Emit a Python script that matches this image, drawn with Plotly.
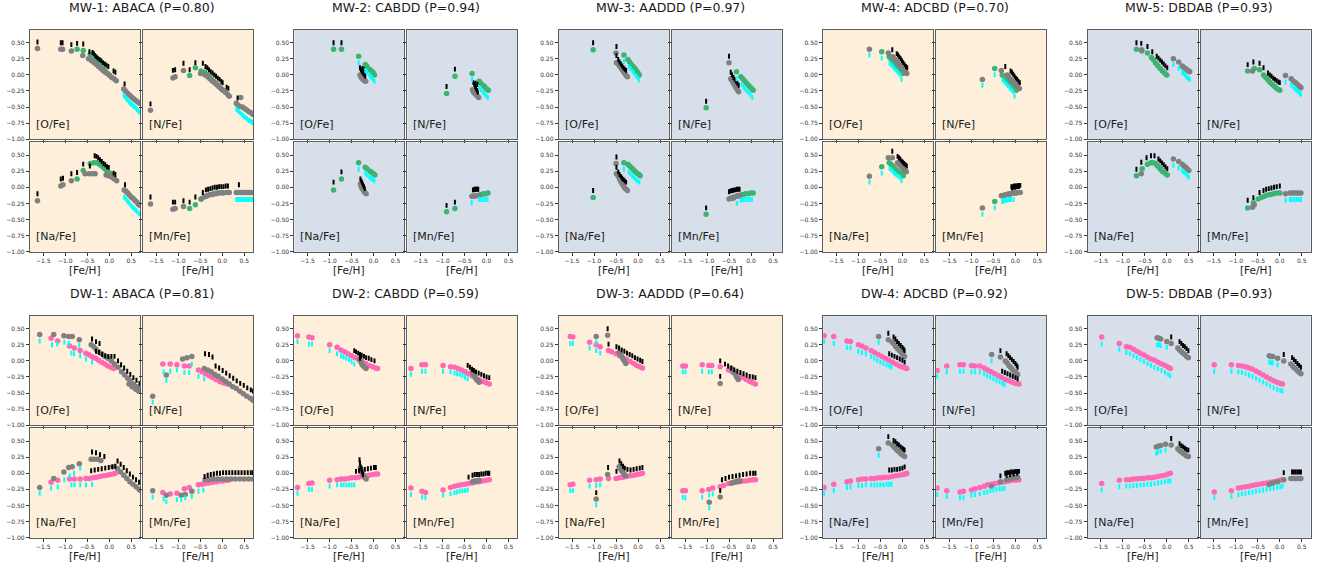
import plotly.graph_objects as go

# ---------------------------------------------------------------------------
# Abundance-ratio tracks vs [Fe/H] for ten simulated galaxies.
# Each panel holds: gray points, model points (green for MW, pink for DW),
# black tick markers (offset above) and cyan tick markers (offset below).
# ---------------------------------------------------------------------------

ELEMENTS = ["[O/Fe]", "[N/Fe]", "[Na/Fe]", "[Mn/Fe]"]
X_TICKS = [-1.5, -1.0, -0.5, 0.0, 0.5]
X_TICK_TEXT = ["\u22121.5", "\u22121.0", "\u22120.5", "0.0", "0.5"]
Y_TICKS = [-1.0, -0.75, -0.5, -0.25, 0.0, 0.25, 0.5]
Y_TICK_TEXT = ["\u22121.00", "\u22120.75", "\u22120.50", "\u22120.25", "0.00", "0.25", "0.50"]

MW_TITLES = ["MW-1: ABACA (P=0.80)", "MW-2: CABDD (P=0.94)", "MW-3: AADDD (P=0.97)",
             "MW-4: ADCBD (P=0.70)", "MW-5: DBDAB (P=0.93)"]
DW_TITLES = ["DW-1: ABACA (P=0.81)", "DW-2: CABDD (P=0.59)", "DW-3: AADDD (P=0.64)",
             "DW-4: ADCBD (P=0.92)", "DW-5: DBDAB (P=0.93)"]
MW_BG = ["warm", "cool", "cool", "warm", "cool"]
DW_BG = ["warm", "warm", "warm", "cool", "cool"]

# ----------------------------- MW-1 ----------------------------------------
MW1_O = dict(
    gray=[(-1.63,0.41),(-1.10,0.40),(-1.06,0.40),(-0.86,0.37),(-0.60,0.30),(-0.47,0.25),(-0.40,0.22),(-0.34,0.19),(-0.29,0.16),(-0.24,0.13),(-0.19,0.10),(-0.14,0.07),(-0.09,0.04),(-0.04,0.02),(0.01,-0.01),(0.06,-0.04),(0.11,-0.06),(0.16,-0.09),(0.33,-0.22),(0.37,-0.25),(0.41,-0.28),(0.45,-0.31),(0.49,-0.33),(0.53,-0.36),(0.57,-0.38),(0.61,-0.40),(0.65,-0.42),(0.69,-0.44)],
    model=[(-0.73,0.40),(-0.59,0.38),(-0.43,0.32),(-0.36,0.29),(-0.32,0.26),(-0.28,0.22),(-0.24,0.18),(-0.20,0.15),(-0.16,0.11),(-0.12,0.08),(-0.08,0.05),(-0.04,0.02),(0.00,0.00)],
    up=[(-1.63,0.51),(-1.10,0.50),(-1.06,0.50),(-0.86,0.47),(-0.73,0.49),(-0.59,0.48),(-0.45,0.36),(-0.38,0.35),(-0.35,0.33),(-0.32,0.30),(-0.29,0.28),(-0.26,0.26),(-0.22,0.24),(-0.18,0.22),(-0.14,0.19),(-0.10,0.17),(-0.06,0.15),(-0.02,0.13),(0.10,0.06),(0.14,0.04),(0.35,-0.14)],
    down=[(0.33,-0.32),(0.36,-0.34),(0.39,-0.37),(0.42,-0.39),(0.45,-0.42),(0.48,-0.44),(0.51,-0.46),(0.54,-0.48),(0.57,-0.49),(0.60,-0.51),(0.63,-0.54),(0.66,-0.56),(0.69,-0.58)])
MW1_N = dict(
    gray=[(-1.63,-0.55),(-1.12,-0.05),(-1.07,-0.03),(-0.88,0.07),(-0.49,0.02),(-0.39,0.00),(-0.33,-0.03),(-0.28,-0.06),(-0.23,-0.09),(-0.18,-0.12),(-0.13,-0.15),(-0.08,-0.18),(-0.03,-0.21),(0.02,-0.24),(0.07,-0.27),(0.12,-0.30),(0.16,-0.33),(0.32,-0.44),(0.42,-0.35),(0.36,-0.47),(0.40,-0.49),(0.46,-0.50),(0.50,-0.52),(0.55,-0.54),(0.60,-0.57),(0.65,-0.59),(0.69,-0.61)],
    model=[(-0.74,-0.01),(-0.61,0.11),(-0.48,0.06),(-0.40,0.04),(-0.35,0.01),(-0.30,-0.03),(-0.25,-0.06),(-0.20,-0.10),(-0.15,-0.13),(-0.10,-0.16),(-0.05,-0.19),(0.00,-0.23)],
    up=[(-1.63,-0.45),(-1.12,0.07),(-1.07,0.08),(-0.88,0.18),(-0.74,0.08),(-0.61,0.19),(-0.44,0.18),(-0.38,0.13),(-0.34,0.11),(-0.30,0.08),(-0.26,0.05),(-0.22,0.03),(-0.18,0.00),(-0.14,-0.02),(-0.10,-0.05),(-0.06,-0.07),(-0.02,-0.10),(0.01,-0.12),(0.10,-0.19),(0.14,-0.21),(0.35,-0.36)],
    down=[(0.32,-0.53),(0.35,-0.55),(0.38,-0.57),(0.41,-0.59),(0.44,-0.61),(0.47,-0.63),(0.50,-0.65),(0.53,-0.66),(0.56,-0.68),(0.59,-0.70),(0.62,-0.71),(0.65,-0.72),(0.68,-0.74)])
MW1_Na = dict(
    gray=[(-1.63,-0.21),(-1.10,0.02),(-1.05,0.04),(-0.86,0.10),(-0.55,0.21),(-0.46,0.21),(-0.38,0.21),(-0.32,0.21),(-0.07,0.19),(-0.02,0.18),(0.03,0.17),(0.08,0.15),(0.12,0.13),(0.17,0.10),(0.34,-0.04),(0.38,-0.06),(0.42,-0.09),(0.46,-0.12),(0.50,-0.15),(0.54,-0.17),(0.58,-0.20),(0.62,-0.23),(0.66,-0.26),(0.69,-0.28)],
    model=[(-0.73,0.13),(-0.59,0.26),(-0.43,0.37),(-0.35,0.38),(-0.28,0.38),(-0.22,0.36),(-0.17,0.33),(-0.12,0.30),(-0.07,0.27),(-0.03,0.24),(0.02,0.22)],
    up=[(-1.63,-0.10),(-1.10,0.13),(-1.05,0.14),(-0.86,0.21),(-0.73,0.23),(-0.59,0.36),(-0.44,0.33),(-0.33,0.49),(-0.29,0.48),(-0.25,0.46),(-0.21,0.43),(-0.17,0.40),(-0.13,0.37),(-0.09,0.35),(-0.05,0.32),(-0.01,0.31),(0.10,0.22),(0.14,0.20),(0.36,0.04)],
    down=[(0.34,-0.15),(0.37,-0.17),(0.40,-0.20),(0.43,-0.23),(0.46,-0.25),(0.49,-0.28),(0.52,-0.30),(0.55,-0.32),(0.58,-0.34),(0.61,-0.36),(0.64,-0.38),(0.68,-0.41)])
MW1_Mn = dict(
    gray=[(-1.63,-0.26),(-1.12,-0.34),(-1.07,-0.33),(-0.88,-0.30),(-0.48,-0.18),(-0.37,-0.14),(-0.30,-0.12),(-0.22,-0.11),(-0.14,-0.10),(-0.06,-0.09),(0.02,-0.09),(0.10,-0.08),(0.16,-0.08),(0.32,-0.08),(0.37,-0.08),(0.42,-0.08),(0.47,-0.08),(0.52,-0.08),(0.57,-0.08),(0.62,-0.08),(0.67,-0.08)],
    model=[(-0.74,-0.33),(-0.61,-0.27),(-0.48,-0.18),(-0.41,-0.15),(-0.34,-0.13),(-0.27,-0.11),(-0.20,-0.10),(-0.13,-0.09),(-0.06,-0.08),(0.00,-0.08)],
    up=[(-1.63,-0.15),(-1.12,-0.23),(-1.07,-0.23),(-0.88,-0.21),(-0.74,-0.23),(-0.61,-0.15),(-0.44,-0.08),(-0.37,-0.04),(-0.32,-0.03),(-0.27,-0.02),(-0.22,-0.01),(-0.17,0.00),(-0.12,0.00),(-0.07,0.01),(-0.02,0.01),(0.03,0.01),(0.08,0.02),(0.13,0.02),(0.38,0.04)],
    down=[(0.32,-0.19),(0.36,-0.19),(0.40,-0.19),(0.44,-0.19),(0.48,-0.19),(0.52,-0.19),(0.56,-0.19),(0.60,-0.19),(0.64,-0.19),(0.68,-0.19)])

# ----------------------------- MW-2 ----------------------------------------
MW2_O = dict(
    gray=[(-0.31,0.00),(-0.29,-0.03),(-0.27,-0.05),(-0.24,-0.07),(-0.21,-0.09),(-0.18,-0.10)],
    model=[(-0.91,0.40),(-0.73,0.40),(-0.34,0.29),(-0.19,0.16),(-0.15,0.13),(-0.08,0.08),(-0.05,0.06),(-0.02,0.04),(0.00,0.02),(0.02,0.00)],
    up=[(-0.91,0.50),(-0.73,0.50),(-0.31,0.11),(-0.29,0.08),(-0.27,0.06),(-0.25,0.04),(-0.23,0.02),(-0.21,0.00),(-0.19,-0.02),(-0.25,0.10),(-0.21,0.08)],
    down=[(-0.34,0.19),(-0.19,0.07),(-0.15,0.04),(-0.10,0.01),(-0.07,-0.02),(-0.04,-0.04),(-0.01,-0.07),(0.02,-0.10)])
MW2_N = dict(
    gray=[(-0.32,-0.23),(-0.30,-0.26),(-0.28,-0.28),(-0.25,-0.30),(-0.22,-0.32),(-0.18,-0.35)],
    model=[(-0.91,-0.29),(-0.72,-0.02),(-0.33,0.02),(-0.17,-0.10),(-0.13,-0.13),(-0.07,-0.17),(-0.04,-0.19),(0.00,-0.22),(0.04,-0.24)],
    up=[(-0.91,-0.18),(-0.72,0.09),(-0.30,-0.12),(-0.28,-0.15),(-0.26,-0.18),(-0.24,-0.21),(-0.22,-0.24),(-0.20,-0.27),(-0.25,-0.13),(-0.21,-0.15)],
    down=[(-0.33,-0.07),(-0.17,-0.20),(-0.13,-0.23),(-0.08,-0.27),(-0.04,-0.30),(0.00,-0.33),(0.03,-0.35)])
MW2_Na = dict(
    gray=[(-0.30,0.05),(-0.28,0.01),(-0.26,-0.02),(-0.23,-0.05),(-0.20,-0.08),(-0.17,-0.10)],
    model=[(-0.91,-0.04),(-0.73,0.13),(-0.34,0.38),(-0.19,0.31),(-0.15,0.29),(-0.08,0.25),(-0.04,0.23),(0.00,0.21),(0.03,0.19)],
    up=[(-0.91,0.08),(-0.73,0.24),(-0.30,0.13),(-0.28,0.10),(-0.26,0.07),(-0.24,0.04),(-0.22,0.01),(-0.20,-0.02)],
    down=[(-0.34,0.28),(-0.19,0.22),(-0.15,0.19),(-0.10,0.16),(-0.06,0.14),(-0.02,0.12),(0.02,0.10)])
MW2_Mn = dict(
    gray=[(-0.33,-0.14),(-0.29,-0.14),(-0.25,-0.13),(-0.21,-0.13),(-0.17,-0.13)],
    model=[(-0.91,-0.38),(-0.72,-0.33),(-0.33,-0.14),(-0.17,-0.12),(-0.12,-0.11),(-0.07,-0.10),(-0.02,-0.10),(0.03,-0.09)],
    up=[(-0.91,-0.28),(-0.72,-0.23),(-0.31,-0.04),(-0.29,-0.04),(-0.27,-0.03),(-0.25,-0.03),(-0.23,-0.03),(-0.21,-0.03),(-0.19,-0.03)],
    down=[(-0.34,-0.24),(-0.17,-0.19),(-0.12,-0.19),(-0.07,-0.19),(-0.03,-0.19),(0.02,-0.19)])

# ----------------------------- MW-3 ----------------------------------------
MW3_O = dict(
    gray=[(-0.50,0.34),(-0.49,0.19),(-0.45,0.17),(-0.42,0.14),(-0.39,0.11),(-0.36,0.08),(-0.33,0.05),(-0.30,0.02),(-0.27,-0.01),(-0.24,-0.03)],
    model=[(-1.02,0.39),(-0.32,0.31),(-0.23,0.24),(-0.19,0.20),(-0.15,0.16),(-0.11,0.13),(-0.07,0.10),(-0.03,0.06),(0.00,0.03),(0.03,0.00)],
    up=[(-1.02,0.50),(-0.49,0.44),(-0.49,0.30),(-0.45,0.24),(-0.42,0.20),(-0.39,0.17),(-0.36,0.14),(-0.33,0.11),(-0.30,0.09),(-0.27,0.07)],
    down=[(-0.32,0.21),(-0.21,0.13),(-0.17,0.10),(-0.13,0.06),(-0.09,0.03),(-0.05,-0.01),(-0.01,-0.04),(0.02,-0.08)])
MW3_N = dict(
    gray=[(-0.50,0.19),(-0.46,-0.06),(-0.43,-0.09),(-0.40,-0.13),(-0.37,-0.16),(-0.34,-0.20),(-0.31,-0.23),(-0.28,-0.26)],
    model=[(-1.02,-0.51),(-0.33,0.05),(-0.23,-0.03),(-0.19,-0.06),(-0.14,-0.10),(-0.10,-0.13),(-0.06,-0.16),(-0.02,-0.19),(0.02,-0.22),(0.05,-0.24)],
    up=[(-1.02,-0.41),(-0.50,0.29),(-0.46,0.04),(-0.43,0.00),(-0.40,-0.04),(-0.37,-0.07),(-0.34,-0.10),(-0.31,-0.13),(-0.28,-0.16)],
    down=[(-0.33,-0.06),(-0.21,-0.15),(-0.17,-0.19),(-0.13,-0.22),(-0.09,-0.25),(-0.05,-0.28),(-0.01,-0.31),(0.03,-0.35)])
MW3_Na = dict(
    gray=[(-0.50,0.37),(-0.49,0.21),(-0.45,0.17),(-0.42,0.13),(-0.39,0.09),(-0.36,0.05),(-0.33,0.02),(-0.30,-0.01),(-0.27,-0.03),(-0.24,-0.05)],
    model=[(-1.02,-0.16),(-0.32,0.38),(-0.23,0.36),(-0.19,0.33),(-0.14,0.30),(-0.10,0.27),(-0.06,0.24),(-0.02,0.22),(0.02,0.20),(0.05,0.18)],
    up=[(-1.02,-0.05),(-0.49,0.47),(-0.49,0.31),(-0.45,0.24),(-0.42,0.20),(-0.39,0.17),(-0.36,0.14),(-0.33,0.12),(-0.30,0.10),(-0.27,0.08)],
    down=[(-0.32,0.28),(-0.21,0.24),(-0.17,0.21),(-0.13,0.18),(-0.09,0.15),(-0.05,0.12),(-0.01,0.10),(0.03,0.08)])
MW3_Mn = dict(
    gray=[(-0.50,-0.18),(-0.46,-0.17),(-0.42,-0.16),(-0.38,-0.15),(-0.34,-0.14),(-0.30,-0.13),(-0.26,-0.13)],
    model=[(-1.02,-0.42),(-0.40,-0.17),(-0.30,-0.14),(-0.24,-0.12),(-0.18,-0.11),(-0.12,-0.10),(-0.06,-0.10),(0.00,-0.09),(0.05,-0.09)],
    up=[(-1.02,-0.32),(-0.50,-0.07),(-0.47,-0.06),(-0.44,-0.05),(-0.41,-0.05),(-0.38,-0.04),(-0.35,-0.04),(-0.32,-0.03),(-0.29,-0.03),(-0.26,-0.03)],
    down=[(-0.32,-0.25),(-0.23,-0.20),(-0.18,-0.19),(-0.13,-0.19),(-0.08,-0.19),(-0.03,-0.19),(0.02,-0.19)])

# ----------------------------- MW-4 ----------------------------------------
MW4_O = dict(
    gray=[(-0.75,0.40),(-0.32,0.34),(-0.22,0.28),(-0.18,0.25),(-0.14,0.22),(-0.10,0.18),(-0.06,0.15),(-0.02,0.11),(0.02,0.08),(0.06,0.05),(0.10,0.02)],
    model=[(-0.47,0.36),(-0.30,0.28),(-0.26,0.25),(-0.22,0.21),(-0.18,0.18),(-0.14,0.14),(-0.10,0.11),(-0.06,0.08),(-0.03,0.05),(0.00,0.02)],
    up=[(-0.23,0.39),(-0.13,0.33),(-0.10,0.31),(-0.07,0.28),(-0.04,0.25),(-0.01,0.22),(0.02,0.19),(0.05,0.16),(0.08,0.13),(0.11,0.11)],
    down=[(-0.75,0.31),(-0.47,0.26),(-0.29,0.18),(-0.25,0.15),(-0.21,0.12),(-0.17,0.09),(-0.13,0.06),(-0.09,0.03),(-0.05,0.00),(-0.02,-0.07)])
MW4_N = dict(
    gray=[(-0.75,-0.07),(-0.32,0.07),(-0.19,0.00),(-0.15,-0.03),(-0.11,-0.07),(-0.07,-0.10),(-0.03,-0.13),(0.01,-0.16),(0.05,-0.19),(0.09,-0.21)],
    model=[(-0.47,0.10),(-0.30,0.00),(-0.26,-0.03),(-0.22,-0.07),(-0.18,-0.10),(-0.14,-0.13),(-0.10,-0.16),(-0.06,-0.19),(-0.02,-0.22),(0.02,-0.24)],
    up=[(-0.23,0.13),(-0.11,0.06),(-0.08,0.04),(-0.05,0.01),(-0.02,-0.02),(0.01,-0.05),(0.04,-0.07),(0.07,-0.10),(0.10,-0.12)],
    down=[(-0.75,-0.16),(-0.47,0.00),(-0.29,-0.08),(-0.25,-0.11),(-0.21,-0.14),(-0.17,-0.17),(-0.13,-0.20),(-0.09,-0.23),(-0.05,-0.26),(-0.02,-0.33)])
MW4_Na = dict(
    gray=[(-0.75,0.17),(-0.32,0.46),(-0.23,0.46),(-0.11,0.38),(-0.07,0.35),(-0.03,0.32),(0.01,0.29),(0.05,0.26),(0.09,0.24)],
    model=[(-0.47,0.32),(-0.30,0.38),(-0.26,0.36),(-0.22,0.33),(-0.18,0.30),(-0.14,0.27),(-0.10,0.24),(-0.06,0.22),(-0.02,0.20),(0.02,0.18)],
    up=[(-0.23,0.56),(-0.11,0.48),(-0.08,0.46),(-0.05,0.44),(-0.02,0.41),(0.01,0.39),(0.04,0.37),(0.07,0.35),(0.10,0.33)],
    down=[(-0.75,0.08),(-0.47,0.22),(-0.29,0.29),(-0.25,0.27),(-0.21,0.24),(-0.17,0.21),(-0.13,0.19),(-0.09,0.17),(-0.05,0.15),(-0.02,0.10)])
MW4_Mn = dict(
    gray=[(-0.75,-0.32),(-0.32,-0.13),(-0.23,-0.12),(-0.17,-0.11),(-0.11,-0.10),(-0.05,-0.09),(0.01,-0.09),(0.06,-0.08),(0.11,-0.08)],
    model=[(-0.47,-0.22),(-0.30,-0.13),(-0.25,-0.12),(-0.20,-0.11),(-0.15,-0.10),(-0.10,-0.10),(-0.05,-0.09),(0.00,-0.09)],
    up=[(-0.09,0.01),(-0.06,0.01),(-0.03,0.02),(0.00,0.02),(0.03,0.02),(0.06,0.03),(0.09,0.03),(0.11,0.03),(-0.08,-0.01),(-0.04,0.00),(0.00,0.00),(0.04,0.01),(0.08,0.01)],
    down=[(-0.75,-0.42),(-0.47,-0.32),(-0.30,-0.22),(-0.26,-0.21),(-0.22,-0.20),(-0.18,-0.20),(-0.14,-0.19),(-0.10,-0.19),(-0.04,-0.19)])

# ----------------------------- MW-5 ----------------------------------------
MW5_O = dict(
    gray=[(-0.57,0.39),(0.15,0.25),(0.27,0.20),(0.35,0.14),(0.38,0.12),(0.41,0.10),(0.44,0.09),(0.47,0.07),(0.50,0.06),(0.52,0.05)],
    model=[(-0.69,0.40),(-0.57,0.37),(-0.44,0.34),(-0.35,0.27),(-0.30,0.23),(-0.25,0.18),(-0.20,0.14),(-0.15,0.10),(-0.10,0.06),(-0.05,0.03),(0.00,0.00)],
    up=[(-0.69,0.50),(-0.58,0.49),(-0.44,0.44),(-0.33,0.36),(-0.23,0.29),(-0.19,0.26),(-0.15,0.23),(-0.11,0.20),(-0.07,0.17),(-0.03,0.14),(0.01,0.11)],
    down=[(0.15,0.16),(0.27,0.10),(0.35,0.04),(0.38,0.02),(0.41,0.00),(0.44,-0.02),(0.47,-0.04),(0.50,-0.06),(0.52,-0.07)])
MW5_N = dict(
    gray=[(-0.62,0.06),(0.13,-0.01),(0.26,-0.06),(0.31,-0.10),(0.35,-0.12),(0.39,-0.14),(0.43,-0.17),(0.46,-0.19),(0.48,-0.20)],
    model=[(-0.73,0.06),(-0.58,0.10),(-0.46,0.08),(-0.37,0.00),(-0.32,-0.04),(-0.27,-0.08),(-0.22,-0.12),(-0.17,-0.15),(-0.12,-0.18),(-0.07,-0.21),(-0.02,-0.23),(0.00,-0.24)],
    up=[(-0.73,0.16),(-0.60,0.20),(-0.46,0.18),(-0.37,0.11),(-0.27,0.03),(-0.23,0.00),(-0.19,-0.02),(-0.15,-0.05),(-0.11,-0.07),(-0.07,-0.09),(-0.03,-0.11),(0.00,-0.12)],
    down=[(0.13,-0.11),(0.26,-0.16),(0.31,-0.20),(0.35,-0.22),(0.39,-0.24),(0.43,-0.27),(0.46,-0.29),(0.48,-0.30)])
MW5_Na = dict(
    gray=[(-0.58,0.21),(0.15,0.44),(0.27,0.40),(0.35,0.36),(0.39,0.33),(0.43,0.31),(0.47,0.28),(0.50,0.26)],
    model=[(-0.69,0.18),(-0.56,0.29),(-0.44,0.36),(-0.36,0.38),(-0.31,0.38),(-0.26,0.37),(-0.22,0.34),(-0.18,0.31),(-0.14,0.28),(-0.10,0.25),(-0.06,0.23),(-0.02,0.21),(0.01,0.19)],
    up=[(-0.69,0.28),(-0.58,0.39),(-0.46,0.46),(-0.36,0.49),(-0.28,0.49),(-0.19,0.44),(-0.15,0.41),(-0.11,0.38),(-0.07,0.35),(-0.03,0.32),(0.01,0.29)],
    down=[(0.15,0.34),(0.27,0.30),(0.35,0.26),(0.39,0.23),(0.43,0.21),(0.47,0.18),(0.50,0.16)])
MW5_Mn = dict(
    gray=[(-0.62,-0.31),(-0.58,-0.27),(0.13,-0.10),(0.23,-0.09),(0.28,-0.09),(0.33,-0.09),(0.38,-0.09),(0.43,-0.09),(0.48,-0.09)],
    model=[(-0.73,-0.32),(-0.60,-0.24),(-0.49,-0.18),(-0.42,-0.16),(-0.35,-0.14),(-0.28,-0.12),(-0.21,-0.11),(-0.14,-0.10),(-0.07,-0.09),(0.00,-0.09)],
    up=[(-0.73,-0.20),(-0.60,-0.16),(-0.46,-0.08),(-0.37,-0.05),(-0.31,-0.03),(-0.25,-0.02),(-0.19,-0.01),(-0.13,0.00),(-0.07,0.01),(0.00,0.02)],
    down=[(0.13,-0.20),(0.23,-0.19),(0.28,-0.19),(0.33,-0.19),(0.38,-0.19),(0.43,-0.19),(0.48,-0.19)])

# ----------------------------- DW-1 ----------------------------------------
DW1_O = dict(
    gray=[(-1.58,0.41),(-1.26,0.41),(-1.03,0.39),(-0.92,0.38),(-0.84,0.38),(-0.68,0.33),(-0.41,0.25),(-0.35,0.22),(-0.30,0.18),(-0.24,0.14),(-0.17,0.11),(-0.10,0.07),(-0.03,0.04),(0.05,0.00),(0.12,-0.05),(0.20,-0.10),(0.28,-0.17),(0.35,-0.22),(0.42,-0.27),(0.48,-0.31),(0.55,-0.36),(0.62,-0.40),(0.68,-0.43),(0.45,-0.36),(0.52,-0.40),(0.60,-0.44),(0.67,-0.47)],
    model=[(-1.32,0.35),(-1.17,0.31),(-0.90,0.23),(-0.79,0.20),(-0.66,0.16),(-0.53,0.12),(-0.45,0.09),(-0.38,0.06),(-0.31,0.04),(-0.24,0.01),(-0.17,-0.02),(-0.10,-0.05),(-0.03,-0.08),(0.04,-0.10),(0.10,-0.12)],
    up=[(-0.39,0.34),(-0.30,0.30),(-0.22,0.27),(-0.30,0.15),(-0.23,0.13),(-0.16,0.10),(-0.09,0.08),(-0.02,0.07),(0.05,0.07),(0.12,0.07),(0.20,0.00),(0.27,-0.06),(0.34,-0.11),(0.41,-0.16),(0.48,-0.21),(0.55,-0.26),(0.62,-0.30),(0.69,-0.35)],
    down=[(-1.58,0.31),(-1.30,0.25),(-1.18,0.26),(-1.02,0.29),(-0.92,0.27),(-0.86,0.12),(-0.80,0.11),(-0.68,0.24),(-0.66,0.08),(-0.53,0.03),(-0.39,-0.02)])
DW1_N = dict(
    gray=[(-1.58,-0.55),(-1.27,-0.22),(-0.90,0.03),(-0.80,0.05),(-0.69,0.07),(-0.41,-0.12),(-0.33,-0.14),(-0.25,-0.17),(-0.17,-0.21),(-0.09,-0.24),(0.00,-0.28),(0.08,-0.32),(0.16,-0.36),(0.24,-0.40),(0.32,-0.43),(0.40,-0.47),(0.48,-0.51),(0.56,-0.55),(0.64,-0.58),(0.70,-0.61)],
    model=[(-1.35,-0.05),(-1.18,-0.05),(-1.03,-0.06),(-0.86,-0.08),(-0.75,-0.08),(-0.54,-0.14),(-0.46,-0.17),(-0.38,-0.20),(-0.30,-0.23),(-0.22,-0.26),(-0.14,-0.29),(-0.06,-0.32),(0.02,-0.34),(0.08,-0.35),(0.14,-0.36)],
    up=[(-0.39,0.11),(-0.30,0.10),(-0.22,0.06),(-0.15,-0.08),(-0.07,-0.11),(0.01,-0.15),(0.09,-0.19),(0.17,-0.23),(0.25,-0.27),(0.33,-0.31),(0.41,-0.35),(0.49,-0.38),(0.57,-0.42),(0.65,-0.45),(0.70,-0.47)],
    down=[(-1.58,-0.64),(-1.33,-0.17),(-1.27,-0.30),(-1.18,-0.16),(-1.03,-0.14),(-0.86,-0.18),(-0.75,-0.18),(-0.69,-0.05),(-0.54,-0.24),(-0.41,-0.28)])
DW1_Na = dict(
    gray=[(-1.58,-0.22),(-1.26,-0.08),(-1.03,0.02),(-0.92,0.09),(-0.84,0.10),(-0.68,0.15),(-0.41,0.22),(-0.34,0.22),(-0.26,0.22),(-0.19,0.20),(0.08,0.10),(0.19,0.07),(0.26,0.02),(0.33,-0.03),(0.40,-0.08),(0.47,-0.13),(0.54,-0.17),(0.61,-0.21),(0.68,-0.25),(0.72,-0.27)],
    model=[(-1.32,-0.14),(-1.17,-0.11),(-0.90,-0.09),(-0.79,-0.09),(-0.66,-0.09),(-0.53,-0.08),(-0.45,-0.08),(-0.37,-0.07),(-0.29,-0.06),(-0.21,-0.05),(-0.13,-0.04),(-0.05,-0.03),(0.02,-0.02),(0.09,-0.01),(0.14,0.00)],
    up=[(-0.39,0.33),(-0.30,0.32),(-0.21,0.29),(-0.11,0.26),(-0.41,0.04),(-0.33,0.05),(-0.25,0.06),(-0.17,0.07),(-0.09,0.08),(-0.01,0.09),(0.07,0.10),(0.14,0.11),(0.19,0.19),(0.26,0.14),(0.33,0.09),(0.40,0.04),(0.47,-0.01),(0.54,-0.06),(0.61,-0.10),(0.68,-0.14),(0.73,-0.17)],
    down=[(-1.58,-0.31),(-1.32,-0.23),(-1.17,-0.21),(-1.02,-0.10),(-0.90,-0.04),(-0.80,0.00),(-0.86,-0.18),(-0.79,-0.18),(-0.66,0.08),(-0.66,-0.18),(-0.53,-0.18),(-0.39,-0.17)])
DW1_Mn = dict(
    gray=[(-1.58,-0.27),(-1.27,-0.34),(-0.93,-0.34),(-0.84,-0.33),(-0.69,-0.28),(-0.39,-0.10),(-0.30,-0.10),(-0.20,-0.09),(-0.10,-0.09),(0.00,-0.09),(0.10,-0.09),(0.20,-0.09),(0.30,-0.09),(0.40,-0.09),(0.50,-0.09),(0.60,-0.09),(0.70,-0.09)],
    model=[(-1.35,-0.30),(-1.18,-0.32),(-1.03,-0.31),(-0.86,-0.24),(-0.75,-0.22),(-0.54,-0.18),(-0.46,-0.17),(-0.38,-0.16),(-0.30,-0.15),(-0.22,-0.14),(-0.14,-0.13),(-0.06,-0.12),(0.02,-0.12),(0.08,-0.11),(0.14,-0.11)],
    up=[(-0.40,-0.05),(-0.33,-0.03),(-0.26,-0.02),(-0.19,-0.01),(-0.12,0.00),(-0.05,0.00),(0.02,0.01),(0.09,0.01),(0.16,0.01),(0.23,0.01),(0.30,0.01),(0.37,0.01),(0.44,0.01),(0.51,0.01),(0.58,0.01),(0.65,0.01),(0.70,0.01)],
    down=[(-1.58,-0.37),(-1.33,-0.40),(-1.27,-0.44),(-1.03,-0.41),(-0.93,-0.41),(-0.84,-0.38),(-0.69,-0.36),(-0.54,-0.28),(-0.43,-0.26)])

# ----------------------------- DW-2 ----------------------------------------
DW2_O = dict(
    gray=[(-0.32,0.03),(-0.30,0.00),(-0.28,-0.03),(-0.26,-0.06),(-0.23,-0.08),(-0.20,-0.10),(-0.17,-0.12)],
    model=[(-1.73,0.39),(-1.47,0.37),(-1.40,0.36),(-1.00,0.25),(-0.83,0.21),(-0.74,0.17),(-0.66,0.14),(-0.58,0.11),(-0.50,0.08),(-0.42,0.05),(-0.34,0.02),(-0.26,-0.01),(-0.18,-0.04),(-0.10,-0.07),(-0.02,-0.09),(0.05,-0.11),(0.09,-0.12)],
    up=[(-0.44,0.16),(-0.40,0.14),(-0.35,0.12),(-0.31,0.10),(-0.27,0.09),(-0.22,0.07),(-0.17,0.05),(-0.11,0.04),(-0.05,0.02),(0.02,0.00),(-0.31,0.04),(-0.29,0.07)],
    down=[(-1.73,0.30),(-1.47,0.26),(-1.40,0.26),(-1.00,0.16),(-0.83,0.11),(-0.74,0.08),(-0.68,0.06),(-0.62,0.04),(-0.56,0.02),(-0.50,-0.01),(-0.44,-0.05)])
DW2_N = dict(
    gray=[(-0.32,-0.16),(-0.30,-0.20),(-0.28,-0.23),(-0.26,-0.26),(-0.23,-0.29),(-0.20,-0.31),(-0.17,-0.33)],
    model=[(-1.72,-0.12),(-1.47,-0.06),(-1.39,-0.06),(-0.99,-0.07),(-0.82,-0.09),(-0.73,-0.10),(-0.65,-0.12),(-0.57,-0.14),(-0.49,-0.17),(-0.41,-0.20),(-0.33,-0.23),(-0.25,-0.26),(-0.17,-0.29),(-0.09,-0.32),(-0.01,-0.34),(0.06,-0.36)],
    up=[(-0.43,-0.07),(-0.38,-0.10),(-0.33,-0.13),(-0.29,-0.15),(-0.24,-0.17),(-0.18,-0.19),(-0.12,-0.21),(-0.06,-0.23),(0.00,-0.25),(0.06,-0.26)],
    down=[(-1.72,-0.21),(-1.47,-0.16),(-1.39,-0.16),(-0.99,-0.16),(-0.82,-0.17),(-0.73,-0.19),(-0.67,-0.20),(-0.61,-0.21),(-0.55,-0.23),(-0.49,-0.25),(-0.43,-0.28)])
DW2_Na = dict(
    gray=[(-0.30,0.09),(-0.29,0.05),(-0.27,0.02),(-0.25,-0.01),(-0.23,-0.04),(-0.20,-0.07),(-0.17,-0.09)],
    model=[(-1.73,-0.22),(-1.47,-0.16),(-1.40,-0.15),(-1.00,-0.11),(-0.83,-0.10),(-0.74,-0.09),(-0.66,-0.09),(-0.58,-0.08),(-0.50,-0.07),(-0.42,-0.07),(-0.34,-0.06),(-0.26,-0.05),(-0.18,-0.04),(-0.10,-0.03),(-0.02,-0.02),(0.05,-0.01),(0.09,-0.01)],
    up=[(-0.40,0.03),(-0.33,0.04),(-0.27,0.05),(-0.20,0.06),(-0.13,0.07),(-0.06,0.08),(0.01,0.09),(0.05,0.09),(-0.32,0.21),(-0.31,0.16),(-0.30,0.11),(-0.28,0.07),(-0.26,0.02),(-0.24,-0.02)],
    down=[(-1.73,-0.31),(-1.47,-0.25),(-1.40,-0.25),(-1.00,-0.20),(-0.83,-0.18),(-0.74,-0.18),(-0.68,-0.18),(-0.62,-0.18),(-0.56,-0.18),(-0.50,-0.18),(-0.44,-0.18)])
DW2_Mn = dict(
    gray=[(-0.32,-0.13),(-0.28,-0.12),(-0.24,-0.12),(-0.20,-0.12),(-0.17,-0.11)],
    model=[(-1.72,-0.23),(-1.47,-0.28),(-1.39,-0.30),(-0.99,-0.26),(-0.82,-0.22),(-0.73,-0.20),(-0.65,-0.19),(-0.57,-0.18),(-0.49,-0.17),(-0.41,-0.16),(-0.33,-0.15),(-0.25,-0.14),(-0.17,-0.13),(-0.09,-0.12),(-0.01,-0.11),(0.06,-0.10)],
    up=[(-0.41,-0.06),(-0.32,-0.03),(-0.27,-0.02),(-0.22,-0.02),(-0.17,-0.02),(-0.12,-0.01),(-0.07,-0.01),(-0.02,0.00),(0.03,0.00),(0.06,0.00)],
    down=[(-1.72,-0.33),(-1.47,-0.37),(-1.39,-0.38),(-0.99,-0.34),(-0.82,-0.32),(-0.73,-0.30),(-0.67,-0.29),(-0.61,-0.28),(-0.55,-0.27),(-0.49,-0.27),(-0.43,-0.26)])

# ----------------------------- DW-3 ----------------------------------------
DW3_O = dict(
    gray=[(-0.95,0.38),(-0.69,0.40),(-0.43,0.13),(-0.40,0.10),(-0.37,0.07),(-0.34,0.03),(-0.31,0.00),(-0.28,-0.04)],
    model=[(-1.54,0.38),(-1.48,0.37),(-1.10,0.29),(-0.95,0.25),(-0.86,0.22),(-0.67,0.16),(-0.60,0.14),(-0.50,0.11),(-0.42,0.08),(-0.34,0.05),(-0.26,0.02),(-0.18,-0.01),(-0.10,-0.04),(-0.03,-0.07),(0.04,-0.09),(0.10,-0.11)],
    up=[(-0.69,0.50),(-0.67,0.26),(-0.49,0.22),(-0.43,0.20),(-0.37,0.17),(-0.31,0.15),(-0.25,0.12),(-0.19,0.10),(-0.13,0.08),(-0.07,0.05),(-0.01,0.03),(0.05,0.01),(0.10,-0.01)],
    down=[(-1.54,0.27),(-1.48,0.27),(-1.10,0.20),(-0.95,0.29),(-0.95,0.16),(-0.86,0.12)])
DW3_N = dict(
    gray=[(-0.70,-0.35),(-0.44,-0.12),(-0.41,-0.15),(-0.38,-0.19),(-0.35,-0.22),(-0.32,-0.26),(-0.29,-0.29)],
    model=[(-1.55,-0.08),(-1.49,-0.08),(-1.11,-0.06),(-0.96,-0.07),(-0.89,-0.07),(-0.70,-0.09),(-0.51,-0.14),(-0.43,-0.17),(-0.35,-0.20),(-0.27,-0.23),(-0.19,-0.26),(-0.11,-0.29),(-0.03,-0.32),(0.04,-0.34),(0.10,-0.36)],
    up=[(-0.70,-0.24),(-0.70,0.00),(-0.59,-0.05),(-0.52,-0.08),(-0.45,-0.11),(-0.38,-0.14),(-0.31,-0.16),(-0.24,-0.18),(-0.17,-0.20),(-0.10,-0.22),(-0.03,-0.24),(0.04,-0.25),(0.10,-0.26)],
    down=[(-1.55,-0.17),(-1.49,-0.17),(-1.11,-0.16),(-0.96,-0.17),(-0.89,-0.17)])
DW3_Na = dict(
    gray=[(-0.95,-0.40),(-0.69,-0.02),(-0.43,0.10),(-0.40,0.07),(-0.37,0.04),(-0.34,0.01),(-0.31,-0.02),(-0.28,-0.04)],
    model=[(-1.54,-0.18),(-1.48,-0.17),(-1.10,-0.11),(-0.95,-0.10),(-0.86,-0.09),(-0.67,-0.08),(-0.50,-0.08),(-0.42,-0.07),(-0.34,-0.06),(-0.26,-0.05),(-0.18,-0.04),(-0.10,-0.03),(-0.03,-0.02),(0.04,-0.01),(0.10,0.00)],
    up=[(-0.95,-0.30),(-0.68,0.09),(-0.49,0.03),(-0.42,0.19),(-0.38,0.15),(-0.34,0.11),(-0.30,0.08),(-0.24,0.06),(-0.17,0.05),(-0.10,0.06),(-0.03,0.07),(0.04,0.08),(0.10,0.09)],
    down=[(-1.54,-0.27),(-1.48,-0.27),(-1.10,-0.20),(-0.95,-0.19),(-0.86,-0.18),(-0.95,-0.49)])
DW3_Mn = dict(
    gray=[(-0.95,-0.45),(-0.70,-0.37),(-0.44,-0.15),(-0.39,-0.14),(-0.34,-0.13),(-0.29,-0.12),(-0.25,-0.12)],
    model=[(-1.55,-0.27),(-1.49,-0.27),(-1.11,-0.27),(-0.96,-0.25),(-0.87,-0.23),(-0.70,-0.21),(-0.62,-0.19),(-0.51,-0.16),(-0.43,-0.15),(-0.35,-0.14),(-0.27,-0.13),(-0.19,-0.12),(-0.11,-0.12),(-0.03,-0.11),(0.04,-0.10),(0.10,-0.10)],
    up=[(-0.70,-0.27),(-0.66,-0.10),(-0.58,-0.08),(-0.50,-0.06),(-0.42,-0.05),(-0.34,-0.04),(-0.26,-0.03),(-0.18,-0.02),(-0.10,-0.01),(-0.02,0.00),(0.05,0.00),(0.10,0.00)],
    down=[(-1.55,-0.37),(-1.49,-0.38),(-1.11,-0.37),(-0.95,-0.34),(-0.87,-0.32),(-0.95,-0.54)])

# ----------------------------- DW-4 ----------------------------------------
DW4_O = dict(
    gray=[(-0.54,0.38),(-0.32,0.33),(-0.23,0.29),(-0.19,0.26),(-0.15,0.22),(-0.11,0.19),(-0.07,0.16),(-0.03,0.13),(0.01,0.10),(0.05,0.07)],
    model=[(-1.78,0.39),(-1.56,0.38),(-1.26,0.31),(-1.18,0.30),(-1.00,0.25),(-0.92,0.23),(-0.83,0.20),(-0.71,0.16),(-0.63,0.13),(-0.55,0.10),(-0.47,0.07),(-0.39,0.04),(-0.31,0.01),(-0.23,-0.02),(-0.15,-0.05),(-0.07,-0.08),(0.01,-0.10),(0.07,-0.11),(0.10,-0.12)],
    up=[(-0.32,0.43),(-0.20,0.37),(-0.16,0.34),(-0.12,0.30),(-0.08,0.27),(-0.04,0.24),(0.00,0.21),(0.03,0.18),(0.05,0.16),(-0.30,0.11),(-0.24,0.09),(-0.18,0.07),(-0.12,0.05),(-0.06,0.03),(0.00,0.01),(0.05,-0.02)],
    down=[(-0.54,0.29),(-1.78,0.30),(-1.56,0.27),(-1.26,0.21),(-1.18,0.20),(-1.00,0.15),(-0.92,0.13),(-0.83,0.11),(-0.71,0.07),(-0.64,0.04),(-0.57,0.01),(-0.50,-0.02),(-0.43,-0.04),(-0.36,-0.06),(-0.30,-0.08),(-0.25,-0.10)])
DW4_N = dict(
    gray=[(-0.54,0.10),(-0.34,0.06),(-0.23,0.00),(-0.19,-0.03),(-0.15,-0.07),(-0.11,-0.10),(-0.07,-0.13),(-0.03,-0.16),(0.01,-0.18),(0.05,-0.21)],
    model=[(-1.78,-0.15),(-1.56,-0.08),(-1.26,-0.06),(-1.18,-0.06),(-1.00,-0.07),(-0.92,-0.08),(-0.81,-0.08),(-0.71,-0.11),(-0.63,-0.14),(-0.55,-0.17),(-0.47,-0.20),(-0.39,-0.23),(-0.31,-0.26),(-0.23,-0.29),(-0.15,-0.31),(-0.07,-0.33),(0.01,-0.35),(0.08,-0.36)],
    up=[(-0.34,0.16),(-0.20,0.11),(-0.16,0.08),(-0.12,0.05),(-0.08,0.02),(-0.04,-0.01),(0.00,-0.04),(0.03,-0.07),(0.05,-0.10),(-0.30,-0.16),(-0.24,-0.18),(-0.18,-0.20),(-0.12,-0.22),(-0.06,-0.24),(0.00,-0.26),(0.05,-0.28)],
    down=[(-0.54,0.00),(-1.78,-0.24),(-1.56,-0.17),(-1.26,-0.16),(-1.18,-0.16),(-1.00,-0.17),(-0.92,-0.17),(-0.81,-0.17),(-0.71,-0.20),(-0.64,-0.23),(-0.57,-0.25),(-0.50,-0.28),(-0.43,-0.30),(-0.36,-0.32),(-0.30,-0.35),(-0.25,-0.37)])
DW4_Na = dict(
    gray=[(-0.54,0.38),(-0.32,0.47),(-0.23,0.44),(-0.19,0.41),(-0.15,0.38),(-0.11,0.35),(-0.07,0.33),(-0.03,0.30),(0.01,0.28),(0.05,0.26)],
    model=[(-1.78,-0.22),(-1.56,-0.17),(-1.26,-0.13),(-1.18,-0.12),(-1.00,-0.10),(-0.92,-0.09),(-0.83,-0.09),(-0.71,-0.08),(-0.63,-0.08),(-0.55,-0.07),(-0.47,-0.07),(-0.39,-0.06),(-0.31,-0.06),(-0.23,-0.05),(-0.15,-0.04),(-0.07,-0.03),(0.01,-0.02),(0.07,-0.01),(0.10,0.00)],
    up=[(-0.32,0.57),(-0.20,0.51),(-0.16,0.49),(-0.12,0.46),(-0.08,0.44),(-0.04,0.41),(0.00,0.39),(0.03,0.37),(0.05,0.36),(-0.30,0.05),(-0.24,0.05),(-0.18,0.06),(-0.12,0.06),(-0.06,0.07),(0.00,0.08),(0.05,0.10)],
    down=[(-0.54,0.28),(-1.78,-0.31),(-1.56,-0.27),(-1.26,-0.22),(-1.18,-0.21),(-1.00,-0.19),(-0.92,-0.19),(-0.83,-0.18),(-0.71,-0.18),(-0.64,-0.18),(-0.57,-0.18),(-0.50,-0.18),(-0.43,-0.18),(-0.36,-0.17),(-0.30,-0.17),(-0.25,-0.17)])
DW4_Mn = dict(
    gray=[(-0.54,-0.20),(-0.34,-0.13),(-0.20,-0.10),(-0.15,-0.09),(-0.10,-0.08),(-0.05,-0.07),(0.00,-0.07),(0.05,-0.06)],
    model=[(-1.78,-0.23),(-1.56,-0.27),(-1.26,-0.29),(-1.18,-0.28),(-1.00,-0.26),(-0.92,-0.24),(-0.81,-0.22),(-0.71,-0.20),(-0.63,-0.18),(-0.55,-0.17),(-0.47,-0.16),(-0.39,-0.15),(-0.31,-0.14),(-0.23,-0.13),(-0.15,-0.12),(-0.07,-0.11),(0.01,-0.11),(0.08,-0.10)],
    up=[(-0.34,-0.04),(-0.23,0.00),(-0.19,0.01),(-0.15,0.01),(-0.11,0.02),(-0.07,0.02),(-0.03,0.02),(0.01,0.03),(0.05,0.03),(0.08,0.03),(-0.20,-0.03),(-0.12,-0.02),(-0.04,-0.01),(0.04,0.00)],
    down=[(-1.78,-0.33),(-1.56,-0.36),(-1.26,-0.38),(-1.18,-0.38),(-1.00,-0.34),(-0.92,-0.33),(-0.81,-0.32),(-0.71,-0.30),(-0.64,-0.29),(-0.57,-0.27),(-0.50,-0.26),(-0.43,-0.25),(-0.36,-0.24),(-0.30,-0.24),(-0.25,-0.23)])

# ----------------------------- DW-5 ----------------------------------------
DW5_O = dict(
    gray=[(-0.22,0.36),(-0.18,0.35),(-0.14,0.34),(0.00,0.30),(0.10,0.27),(0.25,0.20),(0.29,0.17),(0.33,0.14),(0.37,0.12),(0.41,0.10),(0.45,0.07),(0.49,0.05)],
    model=[(-1.48,0.37),(-1.08,0.27),(-0.92,0.22),(-0.84,0.21),(-0.76,0.18),(-0.68,0.15),(-0.60,0.12),(-0.52,0.09),(-0.44,0.06),(-0.36,0.03),(-0.28,0.01),(-0.20,-0.02),(-0.12,-0.05),(-0.04,-0.07),(0.03,-0.10),(0.08,-0.12)],
    up=[(0.10,0.37),(0.29,0.30),(0.33,0.27),(0.37,0.24),(0.41,0.22),(0.45,0.19),(0.49,0.16)],
    down=[(-0.22,0.25),(-0.18,0.25),(-0.14,0.24),(0.00,0.21),(-1.48,0.26),(-1.08,0.18),(-0.92,0.13),(-0.84,0.11),(-0.76,0.08),(-0.68,0.05),(-0.60,0.02),(-0.52,-0.01),(-0.44,-0.04),(-0.36,-0.07),(-0.28,-0.10),(-0.20,-0.12),(-0.12,-0.15),(-0.04,-0.18),(0.03,-0.21),(0.08,-0.23)])
DW5_N = dict(
    gray=[(-0.24,0.08),(-0.20,0.07),(-0.16,0.07),(-0.05,0.04),(0.09,0.00),(0.25,-0.05),(0.29,-0.08),(0.33,-0.11),(0.37,-0.13),(0.41,-0.16),(0.45,-0.18),(0.48,-0.20)],
    model=[(-1.49,-0.06),(-1.10,-0.06),(-0.94,-0.07),(-0.86,-0.08),(-0.78,-0.09),(-0.70,-0.11),(-0.62,-0.13),(-0.54,-0.16),(-0.46,-0.19),(-0.38,-0.22),(-0.30,-0.25),(-0.22,-0.28),(-0.14,-0.31),(-0.06,-0.33),(0.01,-0.35),(0.06,-0.36)],
    up=[(0.09,0.10),(0.28,0.05),(0.32,0.02),(0.36,-0.01),(0.40,-0.04),(0.44,-0.07),(0.48,-0.10)],
    down=[(-0.24,-0.02),(-0.20,-0.03),(-0.16,-0.03),(-0.05,-0.06),(-1.49,-0.16),(-1.10,-0.16),(-0.94,-0.17),(-0.86,-0.18),(-0.78,-0.20),(-0.70,-0.22),(-0.62,-0.24),(-0.54,-0.27),(-0.46,-0.30),(-0.38,-0.33),(-0.30,-0.36),(-0.22,-0.39),(-0.14,-0.42),(-0.06,-0.44),(0.01,-0.46),(0.06,-0.47)])
DW5_Na = dict(
    gray=[(-0.24,0.41),(-0.20,0.42),(-0.14,0.43),(-0.03,0.45),(0.10,0.44),(0.25,0.38),(0.29,0.35),(0.33,0.33),(0.37,0.31),(0.41,0.29),(0.45,0.27),(0.49,0.26)],
    model=[(-1.48,-0.16),(-1.08,-0.11),(-0.92,-0.10),(-0.84,-0.10),(-0.76,-0.09),(-0.68,-0.09),(-0.60,-0.08),(-0.52,-0.08),(-0.44,-0.07),(-0.36,-0.07),(-0.28,-0.06),(-0.20,-0.05),(-0.12,-0.04),(-0.04,-0.03),(0.03,-0.01),(0.08,0.00)],
    up=[(0.10,0.54),(0.29,0.46),(0.33,0.43),(0.37,0.41),(0.41,0.39),(0.45,0.37),(0.49,0.36)],
    down=[(-0.24,0.31),(-0.20,0.33),(-0.14,0.34),(-0.03,0.36),(-1.48,-0.26),(-1.08,-0.21),(-0.92,-0.20),(-0.84,-0.20),(-0.76,-0.19),(-0.68,-0.19),(-0.60,-0.18),(-0.52,-0.18),(-0.44,-0.17),(-0.36,-0.17),(-0.28,-0.16),(-0.20,-0.15),(-0.12,-0.14),(-0.04,-0.13),(0.03,-0.12),(0.08,-0.12)])
DW5_Mn = dict(
    gray=[(-0.24,-0.18),(-0.20,-0.16),(-0.15,-0.15),(-0.05,-0.13),(0.09,-0.10),(0.25,-0.08),(0.30,-0.08),(0.35,-0.08),(0.40,-0.08),(0.45,-0.08),(0.48,-0.08)],
    model=[(-1.49,-0.29),(-1.10,-0.27),(-0.94,-0.23),(-0.86,-0.22),(-0.78,-0.21),(-0.70,-0.20),(-0.62,-0.19),(-0.54,-0.18),(-0.46,-0.17),(-0.38,-0.16),(-0.30,-0.15),(-0.22,-0.14),(-0.14,-0.13),(-0.06,-0.12),(0.01,-0.11),(0.06,-0.10)],
    up=[(0.09,0.01),(0.28,0.02),(0.32,0.02),(0.36,0.02),(0.40,0.02),(0.44,0.02),(0.48,0.02)],
    down=[(-1.49,-0.38),(-1.10,-0.36),(-0.94,-0.33),(-0.86,-0.32),(-0.78,-0.31),(-0.70,-0.30),(-0.62,-0.29),(-0.54,-0.28),(-0.46,-0.27),(-0.38,-0.26),(-0.30,-0.25),(-0.22,-0.24),(-0.14,-0.23),(-0.06,-0.22),(0.01,-0.21),(0.06,-0.20)])

MW_PANELS = [[MW1_O, MW1_N, MW1_Na, MW1_Mn], [MW2_O, MW2_N, MW2_Na, MW2_Mn],
             [MW3_O, MW3_N, MW3_Na, MW3_Mn], [MW4_O, MW4_N, MW4_Na, MW4_Mn],
             [MW5_O, MW5_N, MW5_Na, MW5_Mn]]
DW_PANELS = [[DW1_O, DW1_N, DW1_Na, DW1_Mn], [DW2_O, DW2_N, DW2_Na, DW2_Mn],
             [DW3_O, DW3_N, DW3_Na, DW3_Mn], [DW4_O, DW4_N, DW4_Na, DW4_Mn],
             [DW5_O, DW5_N, DW5_Na, DW5_Mn]]

# ----------------------------- styling -------------------------------------
W, H = 1327, 569
FONT = "DejaVu Sans"
BG_FILL = {"warm": "#FDEFD9", "cool": "#D7DFEA"}
MODEL_COLOR = {"MW": "#3CB371", "DW": "#FF69B4"}
GRAY = "#808080"
FRAME = "#5c5c5c"

GROUP_LEFT = [30 + 264.4 * g for g in range(5)]   # px, left edge of each 2x2 block
BLOCK_TOP = [30, 317.5]                           # px, top edge of each block row
PW, PH, GAP = 110, 110, 3
DOT = 5.5
TICK = 3.5

fig = go.Figure()
layout = {}
shapes = []
annotations = []


def ax_names(i):
    return ("xaxis" if i == 1 else f"xaxis{i}",
            "yaxis" if i == 1 else f"yaxis{i}",
            "x" if i == 1 else f"x{i}",
            "y" if i == 1 else f"y{i}")


def pts(seq):
    return [p[0] for p in seq], [p[1] for p in seq]


idx = 0
for row, (kind, titles, bgs, panels) in enumerate([
        ("MW", MW_TITLES, MW_BG, MW_PANELS),
        ("DW", DW_TITLES, DW_BG, DW_PANELS)]):
    top0 = BLOCK_TOP[row]
    for g in range(5):
        left0 = GROUP_LEFT[g]
        annotations.append(dict(
            x=(left0 + PW + GAP / 2) / W, y=1 - (top0 - 22) / H,
            xref="paper", yref="paper", xanchor="center", yanchor="middle",
            text=titles[g], showarrow=False,
            font=dict(family=FONT, size=12.5, color="#1a1a1a")))
        for k in range(4):
            r, c = divmod(k, 2)
            idx += 1
            xa, ya, xr, yr = ax_names(idx)
            px0 = left0 + c * (PW + GAP)
            py0 = top0 + r * (PH + GAP)
            common = dict(showgrid=False, zeroline=False, showline=True, mirror=True,
                          linecolor=FRAME, linewidth=1.2, ticks="outside", ticklen=3,
                          tickwidth=0.8, tickcolor="#333",
                          tickfont=dict(family=FONT, size=6, color="#333"))
            layout[xa] = dict(common, domain=[px0 / W, (px0 + PW) / W], anchor=yr,
                              range=[-1.8, 0.7], tickvals=X_TICKS, ticktext=X_TICK_TEXT,
                              showticklabels=(r == 1))
            layout[ya] = dict(common, domain=[1 - (py0 + PH) / H, 1 - py0 / H], anchor=xr,
                              range=[-1.0, 0.7], tickvals=Y_TICKS, ticktext=Y_TICK_TEXT,
                              showticklabels=(c == 0))
            shapes.append(dict(type="rect", xref=f"{xr} domain", yref=f"{yr} domain",
                               x0=0, x1=1, y0=0, y1=1, layer="below",
                               fillcolor=BG_FILL[bgs[g]], line=dict(width=0)))
            annotations.append(dict(
                x=(px0 + 4) / W, y=1 - (py0 + PH - 15) / H, xref="paper", yref="paper",
                xanchor="left", yanchor="middle", text=ELEMENTS[k], showarrow=False,
                font=dict(family=FONT, size=11, color="#1a1a1a")))
            if r == 1:
                annotations.append(dict(
                    x=(px0 + PW / 2) / W, y=1 - (py0 + PH + 18) / H, xref="paper",
                    yref="paper", xanchor="center", yanchor="middle", text="[Fe/H]",
                    showarrow=False, font=dict(family=FONT, size=10.5, color="#1a1a1a")))

            p = panels[g][k]
            mx, my = pts(p["model"])
            fig.add_trace(go.Scatter(x=mx, y=my, xaxis=xr, yaxis=yr, mode="markers",
                                     marker=dict(size=DOT, color=MODEL_COLOR[kind],
                                                 line=dict(width=0))))
            gx, gy = pts(p["gray"])
            fig.add_trace(go.Scatter(x=gx, y=gy, xaxis=xr, yaxis=yr, mode="markers",
                                     marker=dict(size=DOT, color=GRAY, line=dict(width=0))))
            ux, uy = pts(p["up"])
            fig.add_trace(go.Scatter(x=ux, y=uy, xaxis=xr, yaxis=yr, mode="markers",
                                     marker=dict(symbol="line-ns", size=TICK,
                                                 line=dict(width=2, color="black"))))
            dx, dy = pts(p["down"])
            fig.add_trace(go.Scatter(x=dx, y=dy, xaxis=xr, yaxis=yr, mode="markers",
                                     marker=dict(symbol="line-ns", size=TICK,
                                                 line=dict(width=2, color="#00FFFF"))))

fig.update_layout(
    width=W, height=H, margin=dict(l=0, r=0, t=0, b=0),
    paper_bgcolor="white", plot_bgcolor="rgba(0,0,0,0)",
    showlegend=False, shapes=shapes, annotations=annotations,
    font=dict(family=FONT), **layout)

fig.write_html("out.html")
